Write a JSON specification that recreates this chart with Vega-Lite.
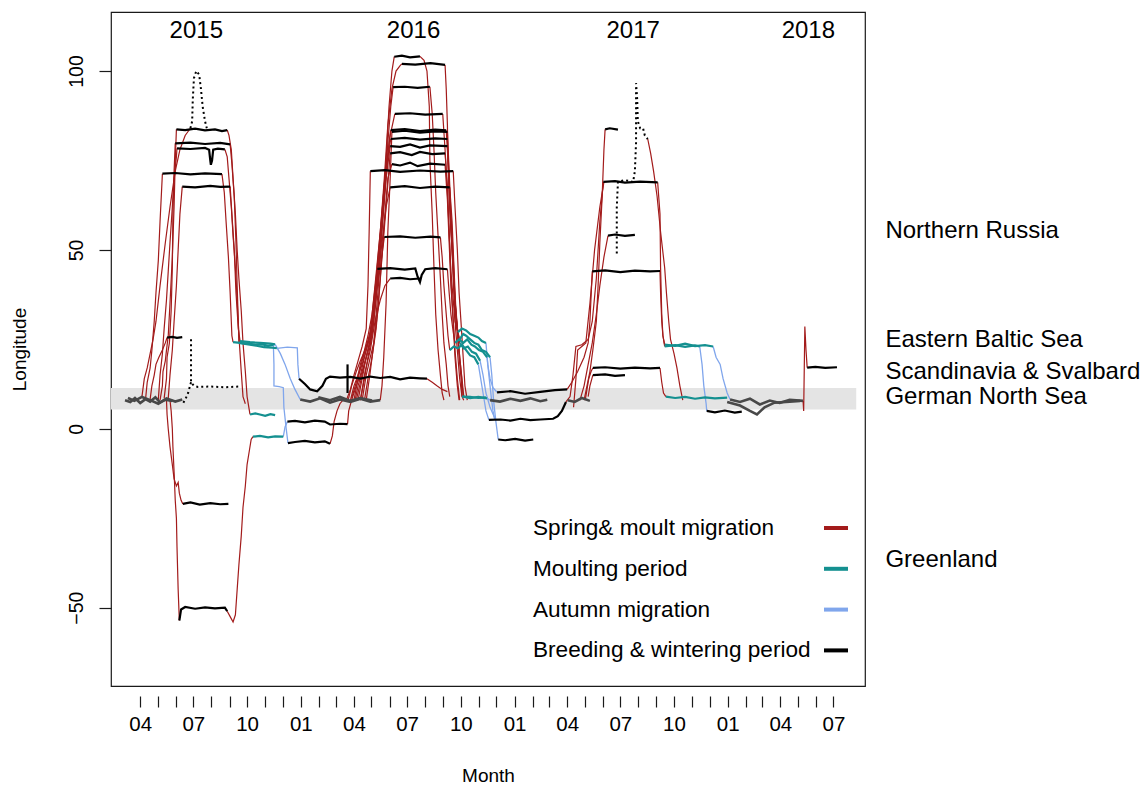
{
"$schema": "https://vega.github.io/schema/vega-lite/v6.json",
"width": 754, "height": 674,
"autosize": {"type": "none"},
"padding": {"left": 111, "top": 12, "right": 281, "bottom": 103},
"background": "white",
"config": {
 "font": "Liberation Sans",
 "view": {"stroke": "#1a1a1a", "strokeWidth": 1.2},
 "axis": {"grid": false, "domain": false, "tickColor": "#1a1a1a", "tickWidth": 1.2, "labelColor": "black", "titleColor": "black", "labelFont": "Liberation Sans", "titleFont": "Liberation Sans", "titleFontWeight": "normal"}
},
"datasets": {"tracks": [
{"s":"w1a","p":"W","d":"2015-03-06","v":8.0},{"s":"w1a","p":"W","d":"2015-03-15","v":7.5},{"s":"w1a","p":"W","d":"2015-03-23","v":8.6},{"s":"w1a","p":"W","d":"2015-04-01","v":7.2},{"s":"w1a","p":"W","d":"2015-04-10","v":8.3},{"s":"w1a","p":"W","d":"2015-04-18","v":7.6},{"s":"w1a","p":"W","d":"2015-04-27","v":8.8},{"s":"w1a","p":"W","d":"2015-05-05","v":7.4},{"s":"w1a","p":"W","d":"2015-05-14","v":8.1},{"s":"w1a","p":"W","d":"2015-05-26","v":7.8},
{"s":"w1b","p":"W","d":"2015-03-11","v":8.6},{"s":"w1b","p":"W","d":"2015-03-22","v":7.8},{"s":"w1b","p":"W","d":"2015-04-04","v":8.9},{"s":"w1b","p":"W","d":"2015-04-18","v":8.0},{"s":"w1b","p":"W","d":"2015-05-02","v":7.0},{"s":"w1b","p":"W","d":"2015-05-16","v":8.5},{"s":"w1b","p":"W","d":"2015-05-31","v":7.6},{"s":"w1b","p":"W","d":"2015-06-12","v":8.2},
{"s":"b1-1","p":"R","d":"2015-05-05","v":8},{"s":"b1-1","p":"R","d":"2015-05-09","v":12},{"s":"b1-1","p":"R","d":"2015-05-10","v":16},{"s":"b1-1","p":"R","d":"2015-05-14","v":19},{"s":"b1-1","p":"R","d":"2015-05-16","v":22},{"s":"b1-1","p":"R","d":"2015-05-19","v":26},{"s":"b1-1","p":"R","d":"2015-05-22","v":35},{"s":"b1-1","p":"R","d":"2015-05-26","v":48},{"s":"b1-1","p":"R","d":"2015-05-29","v":62},{"s":"b1-1","p":"R","d":"2015-05-31","v":75},{"s":"b1-1","p":"R","d":"2015-06-02","v":83.7},
{"s":"b1-2","p":"K","d":"2015-06-02","v":83.7},{"s":"b1-2","p":"K","d":"2015-06-17","v":83.5},{"s":"b1-2","p":"K","d":"2015-07-04","v":83.9},{"s":"b1-2","p":"K","d":"2015-07-21","v":83.4},{"s":"b1-2","p":"K","d":"2015-08-07","v":83.7},{"s":"b1-2","p":"K","d":"2015-08-19","v":83.2},{"s":"b1-2","p":"K","d":"2015-08-28","v":83.5},
{"s":"b1-3","p":"R","d":"2015-08-28","v":83.5},{"s":"b1-3","p":"R","d":"2015-08-31","v":82},{"s":"b1-3","p":"R","d":"2015-09-04","v":78},{"s":"b1-3","p":"R","d":"2015-09-07","v":70},{"s":"b1-3","p":"R","d":"2015-09-11","v":60},{"s":"b1-3","p":"R","d":"2015-09-14","v":50},{"s":"b1-3","p":"R","d":"2015-09-17","v":42},{"s":"b1-3","p":"R","d":"2015-09-21","v":33},{"s":"b1-3","p":"R","d":"2015-09-24","v":24},{"s":"b1-3","p":"R","d":"2015-09-28","v":16},{"s":"b1-3","p":"R","d":"2015-10-01","v":9},{"s":"b1-3","p":"R","d":"2015-10-05","v":5},{"s":"b1-3","p":"R","d":"2015-10-06","v":4},
{"s":"b1-4","p":"T","d":"2015-10-06","v":4},{"s":"b1-4","p":"T","d":"2015-10-15","v":4.3},{"s":"b1-4","p":"T","d":"2015-10-23","v":4.0},{"s":"b1-4","p":"T","d":"2015-11-01","v":3.6},{"s":"b1-4","p":"T","d":"2015-11-10","v":4.1},{"s":"b1-4","p":"T","d":"2015-11-18","v":3.8},
{"s":"b2-1","p":"R","d":"2015-05-12","v":8.5},{"s":"b2-1","p":"R","d":"2015-05-16","v":14},{"s":"b2-1","p":"R","d":"2015-05-17","v":20},{"s":"b2-1","p":"R","d":"2015-05-21","v":24},{"s":"b2-1","p":"R","d":"2015-05-24","v":33},{"s":"b2-1","p":"R","d":"2015-05-26","v":45},{"s":"b2-1","p":"R","d":"2015-05-27","v":60},{"s":"b2-1","p":"R","d":"2015-05-29","v":72},{"s":"b2-1","p":"R","d":"2015-05-31","v":79.8},
{"s":"b2-2","p":"K","d":"2015-05-31","v":79.8},{"s":"b2-2","p":"K","d":"2015-06-26","v":80},{"s":"b2-2","p":"K","d":"2015-07-21","v":79.6},{"s":"b2-2","p":"K","d":"2015-08-16","v":79.9},{"s":"b2-2","p":"K","d":"2015-09-02","v":79.5},
{"s":"b2-3","p":"R","d":"2015-09-02","v":79.5},{"s":"b2-3","p":"R","d":"2015-09-05","v":74},{"s":"b2-3","p":"R","d":"2015-09-09","v":65},{"s":"b2-3","p":"R","d":"2015-09-12","v":52},{"s":"b2-3","p":"R","d":"2015-09-14","v":40},{"s":"b2-3","p":"R","d":"2015-09-16","v":30},{"s":"b2-3","p":"R","d":"2015-09-17","v":24},
{"s":"b2-4","p":"T","d":"2015-09-17","v":24},{"s":"b2-4","p":"T","d":"2015-10-03","v":23.6},{"s":"b2-4","p":"T","d":"2015-10-17","v":23.2},{"s":"b2-4","p":"T","d":"2015-10-30","v":22.8},{"s":"b2-4","p":"T","d":"2015-11-13","v":22.7},{"s":"b2-4","p":"T","d":"2015-11-21","v":22.5},
{"s":"b2-5","p":"A","d":"2015-11-21","v":22.5},{"s":"b2-5","p":"A","d":"2015-12-09","v":22.8},{"s":"b2-5","p":"A","d":"2015-12-26","v":22.6},{"s":"b2-5","p":"A","d":"2015-12-27","v":18},{"s":"b2-5","p":"A","d":"2015-12-29","v":14},
{"s":"b2-6","p":"K","d":"2015-12-29","v":14},{"s":"b2-6","p":"K","d":"2016-01-08","v":12.5},{"s":"b2-6","p":"K","d":"2016-01-17","v":11},{"s":"b2-6","p":"K","d":"2016-01-29","v":10.5},{"s":"b2-6","p":"K","d":"2016-02-07","v":12},{"s":"b2-6","p":"K","d":"2016-02-13","v":14},{"s":"b2-6","p":"K","d":"2016-02-20","v":14.6},{"s":"b2-6","p":"K","d":"2016-03-08","v":14.3},{"s":"b2-6","p":"K","d":"2016-03-26","v":14.5},{"s":"b2-6","p":"K","d":"2016-04-12","v":14.0},{"s":"b2-6","p":"K","d":"2016-04-29","v":14.6},{"s":"b2-6","p":"K","d":"2016-05-16","v":14.2},{"s":"b2-6","p":"K","d":"2016-06-02","v":14.5},{"s":"b2-6","p":"K","d":"2016-06-19","v":13.8},{"s":"b2-6","p":"K","d":"2016-07-06","v":14.3},{"s":"b2-6","p":"K","d":"2016-07-23","v":14.1},{"s":"b2-6","p":"K","d":"2016-08-04","v":14},
{"s":"b2-7","p":"R","d":"2016-08-04","v":14},{"s":"b2-7","p":"R","d":"2016-08-13","v":13},{"s":"b2-7","p":"R","d":"2016-08-21","v":12},{"s":"b2-7","p":"R","d":"2016-08-30","v":11},{"s":"b2-7","p":"R","d":"2016-09-08","v":10.4},
{"s":"b2-8","p":"K","d":"2016-03-21","v":10},{"s":"b2-8","p":"K","d":"2016-03-21","v":18},
{"s":"b3-1","p":"R","d":"2015-05-02","v":8},{"s":"b3-1","p":"R","d":"2015-05-05","v":15},{"s":"b3-1","p":"R","d":"2015-05-09","v":21},{"s":"b3-1","p":"R","d":"2015-05-12","v":28},{"s":"b3-1","p":"R","d":"2015-05-16","v":36},{"s":"b3-1","p":"R","d":"2015-05-19","v":44},{"s":"b3-1","p":"R","d":"2015-05-22","v":52},{"s":"b3-1","p":"R","d":"2015-05-26","v":62},{"s":"b3-1","p":"R","d":"2015-05-29","v":70},{"s":"b3-1","p":"R","d":"2015-06-02","v":76},{"s":"b3-1","p":"R","d":"2015-06-03","v":78.4},
{"s":"b3-2","p":"K","d":"2015-06-03","v":78.4},{"s":"b3-2","p":"K","d":"2015-06-26","v":78.2},{"s":"b3-2","p":"K","d":"2015-07-21","v":78.5},{"s":"b3-2","p":"K","d":"2015-07-28","v":78},{"s":"b3-2","p":"K","d":"2015-07-30","v":75},{"s":"b3-2","p":"K","d":"2015-07-31","v":73.8},{"s":"b3-2","p":"K","d":"2015-08-02","v":75},{"s":"b3-2","p":"K","d":"2015-08-04","v":78},{"s":"b3-2","p":"K","d":"2015-08-12","v":78.3},{"s":"b3-2","p":"K","d":"2015-08-24","v":78.1},
{"s":"b3-3","p":"R","d":"2015-08-24","v":78.1},{"s":"b3-3","p":"R","d":"2015-08-28","v":76},{"s":"b3-3","p":"R","d":"2015-08-31","v":70},{"s":"b3-3","p":"R","d":"2015-09-04","v":62},{"s":"b3-3","p":"R","d":"2015-09-07","v":54},{"s":"b3-3","p":"R","d":"2015-09-11","v":45},{"s":"b3-3","p":"R","d":"2015-09-14","v":36},{"s":"b3-3","p":"R","d":"2015-09-17","v":26},{"s":"b3-3","p":"R","d":"2015-09-21","v":16},{"s":"b3-3","p":"R","d":"2015-09-24","v":9},{"s":"b3-3","p":"R","d":"2015-09-28","v":7},
{"s":"b4-1","p":"R","d":"2015-04-10","v":8},{"s":"b4-1","p":"R","d":"2015-04-13","v":13},{"s":"b4-1","p":"R","d":"2015-04-18","v":17},{"s":"b4-1","p":"R","d":"2015-04-21","v":22},{"s":"b4-1","p":"R","d":"2015-04-25","v":30},{"s":"b4-1","p":"R","d":"2015-04-28","v":38},{"s":"b4-1","p":"R","d":"2015-05-02","v":47},{"s":"b4-1","p":"R","d":"2015-05-05","v":58},{"s":"b4-1","p":"R","d":"2015-05-09","v":71.3},
{"s":"b4-2","p":"K","d":"2015-05-09","v":71.3},{"s":"b4-2","p":"K","d":"2015-05-31","v":71.5},{"s":"b4-2","p":"K","d":"2015-06-26","v":71.1},{"s":"b4-2","p":"K","d":"2015-07-21","v":71.4},{"s":"b4-2","p":"K","d":"2015-08-19","v":71.2},
{"s":"b4-3","p":"R","d":"2015-08-19","v":71.2},{"s":"b4-3","p":"R","d":"2015-08-23","v":66},{"s":"b4-3","p":"R","d":"2015-08-26","v":58},{"s":"b4-3","p":"R","d":"2015-08-30","v":48},{"s":"b4-3","p":"R","d":"2015-09-02","v":38},{"s":"b4-3","p":"R","d":"2015-09-04","v":30},{"s":"b4-3","p":"R","d":"2015-09-05","v":26},{"s":"b4-3","p":"R","d":"2015-09-07","v":24.2},
{"s":"b4-4","p":"T","d":"2015-09-07","v":24.2},{"s":"b4-4","p":"T","d":"2015-09-19","v":24.0},{"s":"b4-4","p":"T","d":"2015-10-03","v":23.8},{"s":"b4-4","p":"T","d":"2015-10-15","v":23.5},{"s":"b4-4","p":"T","d":"2015-10-27","v":23.6},{"s":"b4-4","p":"T","d":"2015-11-06","v":23.2},{"s":"b4-4","p":"T","d":"2015-11-15","v":23.5},
{"s":"b4-5","p":"A","d":"2015-11-15","v":23.5},{"s":"b4-5","p":"A","d":"2015-11-16","v":18},{"s":"b4-5","p":"A","d":"2015-11-16","v":12},{"s":"b4-5","p":"A","d":"2015-11-25","v":11.8},{"s":"b4-5","p":"A","d":"2015-12-02","v":11.5},{"s":"b4-5","p":"A","d":"2015-12-03","v":6},{"s":"b4-5","p":"A","d":"2015-12-07","v":0},{"s":"b4-5","p":"A","d":"2015-12-10","v":-4},
{"s":"b4-6","p":"K","d":"2015-12-10","v":-4},{"s":"b4-6","p":"K","d":"2015-12-22","v":-3.7},{"s":"b4-6","p":"K","d":"2016-01-08","v":-3.4},{"s":"b4-6","p":"K","d":"2016-01-25","v":-3.8},{"s":"b4-6","p":"K","d":"2016-02-11","v":-3.5},{"s":"b4-6","p":"K","d":"2016-02-20","v":-4.2},
{"s":"b4-7","p":"R","d":"2016-02-20","v":-4.2},{"s":"b4-7","p":"R","d":"2016-02-24","v":-2},{"s":"b4-7","p":"R","d":"2016-02-27","v":2},{"s":"b4-7","p":"R","d":"2016-03-03","v":5},{"s":"b4-7","p":"R","d":"2016-03-08","v":7},{"s":"b4-7","p":"R","d":"2016-03-13","v":8},
{"s":"b5-1","p":"R","d":"2015-05-19","v":8.5},{"s":"b5-1","p":"R","d":"2015-05-22","v":15},{"s":"b5-1","p":"R","d":"2015-05-26","v":22},{"s":"b5-1","p":"R","d":"2015-05-29","v":30},{"s":"b5-1","p":"R","d":"2015-06-02","v":40},{"s":"b5-1","p":"R","d":"2015-06-05","v":50},{"s":"b5-1","p":"R","d":"2015-06-08","v":60},{"s":"b5-1","p":"R","d":"2015-06-12","v":67.7},
{"s":"b5-2","p":"K","d":"2015-06-12","v":67.7},{"s":"b5-2","p":"K","d":"2015-07-04","v":67.5},{"s":"b5-2","p":"K","d":"2015-07-30","v":67.9},{"s":"b5-2","p":"K","d":"2015-08-16","v":67.6},{"s":"b5-2","p":"K","d":"2015-09-02","v":67.7},
{"s":"b5-3","p":"R","d":"2015-09-02","v":67.7},{"s":"b5-3","p":"R","d":"2015-09-05","v":60},{"s":"b5-3","p":"R","d":"2015-09-09","v":50},{"s":"b5-3","p":"R","d":"2015-09-12","v":38},{"s":"b5-3","p":"R","d":"2015-09-16","v":28},{"s":"b5-3","p":"R","d":"2015-09-19","v":24.5},
{"s":"b5-4","p":"T","d":"2015-09-19","v":24.5},{"s":"b5-4","p":"T","d":"2015-10-06","v":24.2},{"s":"b5-4","p":"T","d":"2015-10-23","v":24},{"s":"b5-4","p":"T","d":"2015-11-10","v":23.8},{"s":"b5-4","p":"T","d":"2015-11-18","v":23.6},
{"s":"b5-5","p":"A","d":"2015-11-18","v":23.6},{"s":"b5-5","p":"A","d":"2015-11-27","v":21},{"s":"b5-5","p":"A","d":"2015-12-05","v":18},{"s":"b5-5","p":"A","d":"2015-12-14","v":14},{"s":"b5-5","p":"A","d":"2015-12-22","v":11},{"s":"b5-5","p":"A","d":"2015-12-31","v":8.2},
{"s":"b5-6","p":"W","d":"2015-12-31","v":8.2},{"s":"b5-6","p":"W","d":"2016-01-17","v":7.6},{"s":"b5-6","p":"W","d":"2016-02-03","v":8.5},{"s":"b5-6","p":"W","d":"2016-02-20","v":7.3},{"s":"b5-6","p":"W","d":"2016-03-08","v":8.2},{"s":"b5-6","p":"W","d":"2016-03-26","v":7.5},{"s":"b5-6","p":"W","d":"2016-04-12","v":8.4},{"s":"b5-6","p":"W","d":"2016-04-29","v":7.6},{"s":"b5-6","p":"W","d":"2016-05-16","v":8},
{"s":"b5-7","p":"R","d":"2016-05-16","v":8},{"s":"b5-7","p":"R","d":"2016-05-19","v":12},{"s":"b5-7","p":"R","d":"2016-05-22","v":20},{"s":"b5-7","p":"R","d":"2016-05-26","v":35},{"s":"b5-7","p":"R","d":"2016-05-29","v":55},{"s":"b5-7","p":"R","d":"2016-06-02","v":70},{"s":"b5-7","p":"R","d":"2016-06-05","v":83},
{"s":"b5-8","p":"K","d":"2016-06-05","v":83},{"s":"b5-8","p":"K","d":"2016-06-27","v":83.3},{"s":"b5-8","p":"K","d":"2016-07-23","v":82.8},{"s":"b5-8","p":"K","d":"2016-08-18","v":83.1},{"s":"b5-8","p":"K","d":"2016-09-08","v":83},
{"s":"b5-9","p":"R","d":"2016-09-08","v":83},{"s":"b5-9","p":"R","d":"2016-09-11","v":72},{"s":"b5-9","p":"R","d":"2016-09-14","v":60},{"s":"b5-9","p":"R","d":"2016-09-18","v":48},{"s":"b5-9","p":"R","d":"2016-09-21","v":36},{"s":"b5-9","p":"R","d":"2016-09-25","v":27},{"s":"b5-9","p":"R","d":"2016-09-28","v":22},{"s":"b5-9","p":"R","d":"2016-10-02","v":15},{"s":"b5-9","p":"R","d":"2016-10-05","v":9},
{"s":"b5-10","p":"T","d":"2016-10-05","v":9},{"s":"b5-10","p":"T","d":"2016-10-17","v":8.6},{"s":"b5-10","p":"T","d":"2016-10-31","v":8.9},{"s":"b5-10","p":"T","d":"2016-11-15","v":8.5},
{"s":"b5-11","p":"A","d":"2016-11-15","v":8.5},{"s":"b5-11","p":"A","d":"2016-11-20","v":8},
{"s":"b5-12","p":"W","d":"2016-11-20","v":8},{"s":"b5-12","p":"W","d":"2016-12-07","v":7.6},{"s":"b5-12","p":"W","d":"2016-12-25","v":8.4},{"s":"b5-12","p":"W","d":"2017-01-11","v":7.8},{"s":"b5-12","p":"W","d":"2017-01-28","v":8.5},{"s":"b5-12","p":"W","d":"2017-02-14","v":7.7},{"s":"b5-12","p":"W","d":"2017-02-26","v":8.1},
{"s":"b6-1","p":"R","d":"2015-04-18","v":8.2},{"s":"b6-1","p":"R","d":"2015-04-21","v":12},{"s":"b6-1","p":"R","d":"2015-04-25","v":15},{"s":"b6-1","p":"R","d":"2015-04-28","v":18},{"s":"b6-1","p":"R","d":"2015-05-03","v":20},{"s":"b6-1","p":"R","d":"2015-05-09","v":22},{"s":"b6-1","p":"R","d":"2015-05-14","v":24},{"s":"b6-1","p":"R","d":"2015-05-17","v":25.5},
{"s":"b6-2","p":"K","d":"2015-05-17","v":25.5},{"s":"b6-2","p":"K","d":"2015-05-26","v":25.7},{"s":"b6-2","p":"K","d":"2015-06-03","v":25.4},{"s":"b6-2","p":"K","d":"2015-06-12","v":25.6},
{"s":"d1-1","p":"D","d":"2015-06-27","v":25},{"s":"d1-1","p":"D","d":"2015-06-27","v":13},{"s":"d1-1","p":"D","d":"2015-07-02","v":12},{"s":"d1-1","p":"D","d":"2015-07-09","v":11.7},{"s":"d1-1","p":"D","d":"2015-07-30","v":11.8},{"s":"d1-1","p":"D","d":"2015-08-24","v":11.6},{"s":"d1-1","p":"D","d":"2015-09-16","v":11.8},
{"s":"d1-2","p":"D","d":"2015-06-27","v":13},{"s":"d1-2","p":"D","d":"2015-06-22","v":10},{"s":"d1-2","p":"D","d":"2015-06-18","v":8.5},{"s":"d1-2","p":"D","d":"2015-06-13","v":7},
{"s":"b7-1","p":"R","d":"2015-04-04","v":9},{"s":"b7-1","p":"R","d":"2015-04-08","v":14},{"s":"b7-1","p":"R","d":"2015-04-13","v":17},{"s":"b7-1","p":"R","d":"2015-04-18","v":21},{"s":"b7-1","p":"R","d":"2015-04-23","v":25},{"s":"b7-1","p":"R","d":"2015-04-28","v":30},{"s":"b7-1","p":"R","d":"2015-05-05","v":40},{"s":"b7-1","p":"R","d":"2015-05-14","v":52},{"s":"b7-1","p":"R","d":"2015-05-22","v":62},{"s":"b7-1","p":"R","d":"2015-05-31","v":72},{"s":"b7-1","p":"R","d":"2015-06-08","v":78},{"s":"b7-1","p":"R","d":"2015-06-17","v":82},{"s":"b7-1","p":"R","d":"2015-06-26","v":84},
{"s":"d2-1","p":"D","d":"2015-06-26","v":84},{"s":"d2-1","p":"D","d":"2015-06-29","v":86},{"s":"d2-1","p":"D","d":"2015-06-30","v":92},{"s":"d2-1","p":"D","d":"2015-07-02","v":98},{"s":"d2-1","p":"D","d":"2015-07-06","v":100},{"s":"d2-1","p":"D","d":"2015-07-11","v":99},{"s":"d2-1","p":"D","d":"2015-07-14","v":95},{"s":"d2-1","p":"D","d":"2015-07-17","v":90},{"s":"d2-1","p":"D","d":"2015-07-21","v":86},{"s":"d2-1","p":"D","d":"2015-07-24","v":84},
{"s":"g1-1","p":"R","d":"2015-05-22","v":8},{"s":"g1-1","p":"R","d":"2015-05-24","v":5},{"s":"g1-1","p":"R","d":"2015-05-26","v":0},{"s":"g1-1","p":"R","d":"2015-05-27","v":-5},{"s":"g1-1","p":"R","d":"2015-05-29","v":-12},{"s":"g1-1","p":"R","d":"2015-05-31","v":-20},{"s":"g1-1","p":"R","d":"2015-06-02","v":-25},{"s":"g1-1","p":"R","d":"2015-06-03","v":-33},{"s":"g1-1","p":"R","d":"2015-06-05","v":-45},{"s":"g1-1","p":"R","d":"2015-06-07","v":-53.6},
{"s":"g1-2","p":"K","d":"2015-06-07","v":-53.6},{"s":"g1-2","p":"K","d":"2015-06-10","v":-50.5},{"s":"g1-2","p":"K","d":"2015-06-17","v":-49.8},{"s":"g1-2","p":"K","d":"2015-07-04","v":-50.3},{"s":"g1-2","p":"K","d":"2015-07-21","v":-49.9},{"s":"g1-2","p":"K","d":"2015-08-07","v":-50.2},{"s":"g1-2","p":"K","d":"2015-08-24","v":-50},{"s":"g1-2","p":"K","d":"2015-08-28","v":-51},
{"s":"g1-3","p":"R","d":"2015-08-28","v":-51},{"s":"g1-3","p":"R","d":"2015-09-02","v":-52.5},{"s":"g1-3","p":"R","d":"2015-09-07","v":-54},{"s":"g1-3","p":"R","d":"2015-09-11","v":-52},{"s":"g1-3","p":"R","d":"2015-09-14","v":-45},{"s":"g1-3","p":"R","d":"2015-09-17","v":-38},{"s":"g1-3","p":"R","d":"2015-09-21","v":-30},{"s":"g1-3","p":"R","d":"2015-09-24","v":-22},{"s":"g1-3","p":"R","d":"2015-09-28","v":-16},{"s":"g1-3","p":"R","d":"2015-10-01","v":-10},{"s":"g1-3","p":"R","d":"2015-10-05","v":-6},{"s":"g1-3","p":"R","d":"2015-10-08","v":-3},{"s":"g1-3","p":"R","d":"2015-10-11","v":-2.2},
{"s":"g1-4","p":"T","d":"2015-10-11","v":-2.2},{"s":"g1-4","p":"T","d":"2015-10-23","v":-2.0},{"s":"g1-4","p":"T","d":"2015-11-06","v":-2.4},{"s":"g1-4","p":"T","d":"2015-11-18","v":-2.1},{"s":"g1-4","p":"T","d":"2015-12-02","v":-2.2},
{"s":"g1-5","p":"A","d":"2015-12-02","v":-2.2},{"s":"g1-5","p":"A","d":"2015-12-05","v":0.5},{"s":"g1-5","p":"A","d":"2015-12-09","v":2},
{"s":"g1-6","p":"K","d":"2015-12-09","v":2},{"s":"g1-6","p":"K","d":"2015-12-22","v":2.2},{"s":"g1-6","p":"K","d":"2016-01-08","v":1.8},{"s":"g1-6","p":"K","d":"2016-01-25","v":2.3},{"s":"g1-6","p":"K","d":"2016-02-11","v":2.0},{"s":"g1-6","p":"K","d":"2016-02-20","v":1.2},{"s":"g1-6","p":"K","d":"2016-03-08","v":1.4},{"s":"g1-6","p":"K","d":"2016-03-21","v":1.3},
{"s":"g1-7","p":"R","d":"2016-03-21","v":1.3},{"s":"g1-7","p":"R","d":"2016-03-23","v":5},{"s":"g1-7","p":"R","d":"2016-03-28","v":8},{"s":"g1-7","p":"R","d":"2016-04-05","v":12},{"s":"g1-7","p":"R","d":"2016-04-12","v":15},{"s":"g1-7","p":"R","d":"2016-04-19","v":20},{"s":"g1-7","p":"R","d":"2016-04-25","v":24},{"s":"g1-7","p":"R","d":"2016-05-02","v":30},{"s":"g1-7","p":"R","d":"2016-05-09","v":38},{"s":"g1-7","p":"R","d":"2016-05-16","v":45},{"s":"g1-7","p":"R","d":"2016-05-23","v":53.6},
{"s":"g1-8","p":"K","d":"2016-05-23","v":53.6},{"s":"g1-8","p":"K","d":"2016-06-19","v":53.8},{"s":"g1-8","p":"K","d":"2016-07-15","v":53.4},{"s":"g1-8","p":"K","d":"2016-08-10","v":53.7},{"s":"g1-8","p":"K","d":"2016-08-27","v":53.5},
{"s":"g1-9","p":"R","d":"2016-08-27","v":53.5},{"s":"g1-9","p":"R","d":"2016-08-30","v":48},{"s":"g1-9","p":"R","d":"2016-09-02","v":40},{"s":"g1-9","p":"R","d":"2016-09-06","v":32},{"s":"g1-9","p":"R","d":"2016-09-09","v":26},{"s":"g1-9","p":"R","d":"2016-09-12","v":22},
{"s":"g1-10","p":"T","d":"2016-09-12","v":22},{"s":"g1-10","p":"T","d":"2016-09-19","v":23},{"s":"g1-10","p":"T","d":"2016-09-26","v":22.5},{"s":"g1-10","p":"T","d":"2016-10-03","v":23.5},{"s":"g1-10","p":"T","d":"2016-10-10","v":22},{"s":"g1-10","p":"T","d":"2016-10-17","v":20.5},{"s":"g1-10","p":"T","d":"2016-10-24","v":20},{"s":"g1-10","p":"T","d":"2016-10-31","v":18},
{"s":"g1-11","p":"A","d":"2016-10-31","v":18},{"s":"g1-11","p":"A","d":"2016-11-03","v":15},{"s":"g1-11","p":"A","d":"2016-11-08","v":10},{"s":"g1-11","p":"A","d":"2016-11-13","v":5},{"s":"g1-11","p":"A","d":"2016-11-18","v":2.5},
{"s":"g1-12","p":"K","d":"2016-11-18","v":2.5},{"s":"g1-12","p":"K","d":"2016-12-08","v":2.6},{"s":"g1-12","p":"K","d":"2016-12-25","v":2.3},{"s":"g1-12","p":"K","d":"2017-01-11","v":2.8},{"s":"g1-12","p":"K","d":"2017-01-28","v":2.4},{"s":"g1-12","p":"K","d":"2017-02-14","v":2.6},{"s":"g1-12","p":"K","d":"2017-03-08","v":2.8},{"s":"g1-12","p":"K","d":"2017-03-16","v":3.5},{"s":"g1-12","p":"K","d":"2017-03-23","v":5},{"s":"g1-12","p":"K","d":"2017-03-30","v":7.5},
{"s":"g1-13","p":"R","d":"2017-03-30","v":7.5},{"s":"g1-13","p":"R","d":"2017-04-06","v":9},{"s":"g1-13","p":"R","d":"2017-04-11","v":15},{"s":"g1-13","p":"R","d":"2017-04-16","v":23},{"s":"g1-13","p":"R","d":"2017-04-26","v":23.5},{"s":"g1-13","p":"R","d":"2017-05-07","v":25},{"s":"g1-13","p":"R","d":"2017-05-14","v":30},{"s":"g1-13","p":"R","d":"2017-05-21","v":42},{"s":"g1-13","p":"R","d":"2017-05-27","v":58},{"s":"g1-13","p":"R","d":"2017-06-02","v":69},
{"s":"g1-14","p":"K","d":"2017-06-02","v":69},{"s":"g1-14","p":"K","d":"2017-06-22","v":69.2},{"s":"g1-14","p":"K","d":"2017-07-09","v":68.8},{"s":"g1-14","p":"K","d":"2017-08-04","v":69.1},{"s":"g1-14","p":"K","d":"2017-09-03","v":68.9},
{"s":"g1-15","p":"R","d":"2017-09-03","v":68.9},{"s":"g1-15","p":"R","d":"2017-09-07","v":60},{"s":"g1-15","p":"R","d":"2017-09-08","v":45},{"s":"g1-15","p":"R","d":"2017-09-10","v":32},{"s":"g1-15","p":"R","d":"2017-09-12","v":26},{"s":"g1-15","p":"R","d":"2017-09-15","v":23.5},
{"s":"g1-16","p":"T","d":"2017-09-15","v":23.5},{"s":"g1-16","p":"T","d":"2017-10-03","v":23.2},{"s":"g1-16","p":"T","d":"2017-10-20","v":23.8},{"s":"g1-16","p":"T","d":"2017-11-06","v":23.1},{"s":"g1-16","p":"T","d":"2017-11-23","v":23.4},{"s":"g1-16","p":"T","d":"2017-12-07","v":23},
{"s":"g1-17","p":"A","d":"2017-12-07","v":23},{"s":"g1-17","p":"A","d":"2017-12-12","v":20},{"s":"g1-17","p":"A","d":"2017-12-19","v":18},{"s":"g1-17","p":"A","d":"2017-12-24","v":14},{"s":"g1-17","p":"A","d":"2017-12-31","v":10},{"s":"g1-17","p":"A","d":"2018-01-05","v":8.2},
{"s":"g1-18","p":"W","d":"2018-01-05","v":8.2},{"s":"g1-18","p":"W","d":"2018-01-22","v":7.5},{"s":"g1-18","p":"W","d":"2018-02-08","v":8.4},{"s":"g1-18","p":"W","d":"2018-02-25","v":6.8},{"s":"g1-18","p":"W","d":"2018-03-14","v":7.9},{"s":"g1-18","p":"W","d":"2018-03-31","v":7.2},{"s":"g1-18","p":"W","d":"2018-04-17","v":8.1},{"s":"g1-18","p":"W","d":"2018-05-10","v":7.8},
{"s":"g1-19","p":"R","d":"2018-05-10","v":7.8},{"s":"g1-19","p":"R","d":"2018-05-11","v":5},{"s":"g1-19","p":"R","d":"2018-05-13","v":28.6},{"s":"g1-19","p":"R","d":"2018-05-15","v":22},{"s":"g1-19","p":"R","d":"2018-05-17","v":17.1},
{"s":"g1-20","p":"K","d":"2018-05-17","v":17.1},{"s":"g1-20","p":"K","d":"2018-05-31","v":17.3},{"s":"g1-20","p":"K","d":"2018-06-17","v":17},{"s":"g1-20","p":"K","d":"2018-07-07","v":17.2},
{"s":"g2-1","p":"R","d":"2015-05-16","v":8},{"s":"g2-1","p":"R","d":"2015-05-17","v":4},{"s":"g2-1","p":"R","d":"2015-05-19","v":0},{"s":"g2-1","p":"R","d":"2015-05-22","v":-5},{"s":"g2-1","p":"R","d":"2015-05-26","v":-10},{"s":"g2-1","p":"R","d":"2015-05-29","v":-14},{"s":"g2-1","p":"R","d":"2015-06-02","v":-16},{"s":"g2-1","p":"R","d":"2015-06-05","v":-15},{"s":"g2-1","p":"R","d":"2015-06-07","v":-18},{"s":"g2-1","p":"R","d":"2015-06-10","v":-20},{"s":"g2-1","p":"R","d":"2015-06-13","v":-21},
{"s":"g2-2","p":"K","d":"2015-06-13","v":-21},{"s":"g2-2","p":"K","d":"2015-06-26","v":-20.6},{"s":"g2-2","p":"K","d":"2015-07-12","v":-21.2},{"s":"g2-2","p":"K","d":"2015-07-30","v":-20.8},{"s":"g2-2","p":"K","d":"2015-08-16","v":-21.1},{"s":"g2-2","p":"K","d":"2015-08-30","v":-21},
{"s":"w2-1","p":"W","d":"2016-01-31","v":8.8},{"s":"w2-1","p":"W","d":"2016-02-20","v":8.0},{"s":"w2-1","p":"W","d":"2016-03-08","v":8.9},{"s":"w2-1","p":"W","d":"2016-03-26","v":7.8},{"s":"w2-1","p":"W","d":"2016-04-12","v":8.6},{"s":"w2-1","p":"W","d":"2016-05-02","v":7.9},
{"s":"c1-1","p":"R","d":"2016-04-03","v":8},{"s":"c1-1","p":"R","d":"2016-04-08","v":12},{"s":"c1-1","p":"R","d":"2016-04-15","v":16},{"s":"c1-1","p":"R","d":"2016-04-22","v":20},{"s":"c1-1","p":"R","d":"2016-04-29","v":25},{"s":"c1-1","p":"R","d":"2016-05-05","v":33},{"s":"c1-1","p":"R","d":"2016-05-12","v":45},{"s":"c1-1","p":"R","d":"2016-05-19","v":60},{"s":"c1-1","p":"R","d":"2016-05-26","v":75},{"s":"c1-1","p":"R","d":"2016-05-31","v":90},{"s":"c1-1","p":"R","d":"2016-06-05","v":100},{"s":"c1-1","p":"R","d":"2016-06-09","v":104},
{"s":"c1-2","p":"K","d":"2016-06-09","v":104},{"s":"c1-2","p":"K","d":"2016-06-22","v":104.3},{"s":"c1-2","p":"K","d":"2016-07-06","v":103.8},{"s":"c1-2","p":"K","d":"2016-07-23","v":104.1},
{"s":"c1-3","p":"R","d":"2016-07-23","v":104.1},{"s":"c1-3","p":"R","d":"2016-07-30","v":103},{"s":"c1-3","p":"R","d":"2016-08-04","v":100},{"s":"c1-3","p":"R","d":"2016-08-08","v":90},{"s":"c1-3","p":"R","d":"2016-08-09","v":75},{"s":"c1-3","p":"R","d":"2016-08-13","v":60},{"s":"c1-3","p":"R","d":"2016-08-16","v":45},{"s":"c1-3","p":"R","d":"2016-08-19","v":32},{"s":"c1-3","p":"R","d":"2016-08-23","v":22},{"s":"c1-3","p":"R","d":"2016-08-27","v":15},{"s":"c1-3","p":"R","d":"2016-08-30","v":10},{"s":"c1-3","p":"R","d":"2016-09-02","v":8},
{"s":"c2-1","p":"R","d":"2016-03-28","v":8.5},{"s":"c2-1","p":"R","d":"2016-04-05","v":13},{"s":"c2-1","p":"R","d":"2016-04-12","v":18},{"s":"c2-1","p":"R","d":"2016-04-19","v":22},{"s":"c2-1","p":"R","d":"2016-04-25","v":26},{"s":"c2-1","p":"R","d":"2016-05-02","v":32},{"s":"c2-1","p":"R","d":"2016-05-09","v":42},{"s":"c2-1","p":"R","d":"2016-05-16","v":55},{"s":"c2-1","p":"R","d":"2016-05-23","v":70},{"s":"c2-1","p":"R","d":"2016-05-29","v":85},{"s":"c2-1","p":"R","d":"2016-06-05","v":95},{"s":"c2-1","p":"R","d":"2016-06-12","v":100},{"s":"c2-1","p":"R","d":"2016-06-19","v":101.5},{"s":"c2-1","p":"R","d":"2016-06-22","v":102},
{"s":"c2-2","p":"K","d":"2016-06-22","v":102},{"s":"c2-2","p":"K","d":"2016-07-15","v":101.8},{"s":"c2-2","p":"K","d":"2016-08-10","v":102.2},{"s":"c2-2","p":"K","d":"2016-09-04","v":101.7},
{"s":"c2-3","p":"R","d":"2016-09-04","v":101.7},{"s":"c2-3","p":"R","d":"2016-09-06","v":95},{"s":"c2-3","p":"R","d":"2016-09-08","v":85},{"s":"c2-3","p":"R","d":"2016-09-09","v":75},{"s":"c2-3","p":"R","d":"2016-09-12","v":62},{"s":"c2-3","p":"R","d":"2016-09-16","v":50},{"s":"c2-3","p":"R","d":"2016-09-19","v":40},{"s":"c2-3","p":"R","d":"2016-09-22","v":32},{"s":"c2-3","p":"R","d":"2016-09-26","v":27},{"s":"c2-3","p":"R","d":"2016-09-29","v":25},
{"s":"c2-4","p":"T","d":"2016-09-29","v":25},{"s":"c2-4","p":"T","d":"2016-10-05","v":26.5},{"s":"c2-4","p":"T","d":"2016-10-10","v":26},{"s":"c2-4","p":"T","d":"2016-10-17","v":25},{"s":"c2-4","p":"T","d":"2016-10-24","v":24},{"s":"c2-4","p":"T","d":"2016-10-31","v":23.5},{"s":"c2-4","p":"T","d":"2016-11-06","v":22},{"s":"c2-4","p":"T","d":"2016-11-13","v":21.5},{"s":"c2-4","p":"T","d":"2016-11-20","v":20},
{"s":"c2-5","p":"A","d":"2016-11-20","v":20},{"s":"c2-5","p":"A","d":"2016-11-23","v":15},{"s":"c2-5","p":"A","d":"2016-11-26","v":8},{"s":"c2-5","p":"A","d":"2016-11-30","v":2},{"s":"c2-5","p":"A","d":"2016-12-04","v":-3},
{"s":"c2-6","p":"K","d":"2016-12-04","v":-3},{"s":"c2-6","p":"K","d":"2016-12-16","v":-3.2},{"s":"c2-6","p":"K","d":"2017-01-02","v":-2.8},{"s":"c2-6","p":"K","d":"2017-01-19","v":-3.3},{"s":"c2-6","p":"K","d":"2017-02-02","v":-3},
{"s":"c3-1","p":"R","d":"2016-04-12","v":8},{"s":"c3-1","p":"R","d":"2016-04-19","v":14},{"s":"c3-1","p":"R","d":"2016-04-25","v":20},{"s":"c3-1","p":"R","d":"2016-05-02","v":26},{"s":"c3-1","p":"R","d":"2016-05-09","v":36},{"s":"c3-1","p":"R","d":"2016-05-16","v":50},{"s":"c3-1","p":"R","d":"2016-05-23","v":65},{"s":"c3-1","p":"R","d":"2016-05-29","v":80},{"s":"c3-1","p":"R","d":"2016-06-03","v":90},{"s":"c3-1","p":"R","d":"2016-06-07","v":95.5},
{"s":"c3-2","p":"K","d":"2016-06-07","v":95.5},{"s":"c3-2","p":"K","d":"2016-06-27","v":95.6},{"s":"c3-2","p":"K","d":"2016-07-19","v":95.3},{"s":"c3-2","p":"K","d":"2016-08-09","v":95.6},
{"s":"c3-3","p":"R","d":"2016-08-09","v":95.6},{"s":"c3-3","p":"R","d":"2016-08-13","v":88},{"s":"c3-3","p":"R","d":"2016-08-16","v":78},{"s":"c3-3","p":"R","d":"2016-08-19","v":66},{"s":"c3-3","p":"R","d":"2016-08-23","v":54},{"s":"c3-3","p":"R","d":"2016-08-27","v":42},{"s":"c3-3","p":"R","d":"2016-08-30","v":32},{"s":"c3-3","p":"R","d":"2016-09-02","v":24},{"s":"c3-3","p":"R","d":"2016-09-06","v":18},{"s":"c3-3","p":"R","d":"2016-09-09","v":12},{"s":"c3-3","p":"R","d":"2016-09-12","v":9},
{"s":"c4-1","p":"R","d":"2016-03-22","v":8},{"s":"c4-1","p":"R","d":"2016-03-28","v":12},{"s":"c4-1","p":"R","d":"2016-04-05","v":16},{"s":"c4-1","p":"R","d":"2016-04-12","v":19},{"s":"c4-1","p":"R","d":"2016-04-20","v":22},{"s":"c4-1","p":"R","d":"2016-04-29","v":27},{"s":"c4-1","p":"R","d":"2016-05-07","v":40},{"s":"c4-1","p":"R","d":"2016-05-16","v":55},{"s":"c4-1","p":"R","d":"2016-05-24","v":70},{"s":"c4-1","p":"R","d":"2016-06-02","v":82},{"s":"c4-1","p":"R","d":"2016-06-10","v":88},
{"s":"c4-2","p":"K","d":"2016-06-10","v":88},{"s":"c4-2","p":"K","d":"2016-07-06","v":88.2},{"s":"c4-2","p":"K","d":"2016-08-01","v":87.8},{"s":"c4-2","p":"K","d":"2016-08-31","v":88},
{"s":"c4-3","p":"R","d":"2016-08-31","v":88},{"s":"c4-3","p":"R","d":"2016-09-04","v":78},{"s":"c4-3","p":"R","d":"2016-09-08","v":66},{"s":"c4-3","p":"R","d":"2016-09-11","v":55},{"s":"c4-3","p":"R","d":"2016-09-14","v":44},{"s":"c4-3","p":"R","d":"2016-09-18","v":36},{"s":"c4-3","p":"R","d":"2016-09-21","v":30},{"s":"c4-3","p":"R","d":"2016-09-26","v":27},
{"s":"c4-4","p":"T","d":"2016-09-26","v":27},{"s":"c4-4","p":"T","d":"2016-10-03","v":28},{"s":"c4-4","p":"T","d":"2016-10-10","v":27.5},{"s":"c4-4","p":"T","d":"2016-10-17","v":26.5},{"s":"c4-4","p":"T","d":"2016-10-24","v":26},{"s":"c4-4","p":"T","d":"2016-10-31","v":25.5},{"s":"c4-4","p":"T","d":"2016-11-06","v":24.5},{"s":"c4-4","p":"T","d":"2016-11-13","v":24},
{"s":"c4-5","p":"A","d":"2016-11-13","v":24},{"s":"c4-5","p":"A","d":"2016-11-16","v":18},{"s":"c4-5","p":"A","d":"2016-11-20","v":14},{"s":"c4-5","p":"A","d":"2016-11-25","v":11.5},{"s":"c4-5","p":"A","d":"2016-12-02","v":10.2},
{"s":"c4-6","p":"K","d":"2016-12-02","v":10.2},{"s":"c4-6","p":"K","d":"2016-12-25","v":10.5},{"s":"c4-6","p":"K","d":"2017-01-19","v":9.8},{"s":"c4-6","p":"K","d":"2017-02-14","v":10.3},{"s":"c4-6","p":"K","d":"2017-03-11","v":10.8},{"s":"c4-6","p":"K","d":"2017-04-01","v":11},
{"s":"c4-7","p":"R","d":"2017-04-01","v":11},{"s":"c4-7","p":"R","d":"2017-04-09","v":13},{"s":"c4-7","p":"R","d":"2017-04-19","v":16},{"s":"c4-7","p":"R","d":"2017-04-30","v":20},{"s":"c4-7","p":"R","d":"2017-05-07","v":24},{"s":"c4-7","p":"R","d":"2017-05-10","v":30},{"s":"c4-7","p":"R","d":"2017-05-14","v":44},
{"s":"c4-8","p":"K","d":"2017-05-14","v":44},{"s":"c4-8","p":"K","d":"2017-06-05","v":44.3},{"s":"c4-8","p":"K","d":"2017-07-01","v":43.8},{"s":"c4-8","p":"K","d":"2017-07-26","v":44.2},{"s":"c4-8","p":"K","d":"2017-08-21","v":44},{"s":"c4-8","p":"K","d":"2017-09-07","v":44.1},
{"s":"c4-9","p":"R","d":"2017-09-07","v":44.1},{"s":"c4-9","p":"R","d":"2017-09-08","v":38},{"s":"c4-9","p":"R","d":"2017-09-10","v":30},{"s":"c4-9","p":"R","d":"2017-09-12","v":26},{"s":"c4-9","p":"R","d":"2017-09-15","v":23},
{"s":"c4-10","p":"T","d":"2017-09-15","v":23},{"s":"c4-10","p":"T","d":"2017-10-03","v":23.4},{"s":"c4-10","p":"T","d":"2017-10-20","v":22.9},{"s":"c4-10","p":"T","d":"2017-11-06","v":23.3},{"s":"c4-10","p":"T","d":"2017-11-14","v":23},
{"s":"c4-11","p":"A","d":"2017-11-14","v":23},{"s":"c4-11","p":"A","d":"2017-11-18","v":18},{"s":"c4-11","p":"A","d":"2017-11-21","v":12},{"s":"c4-11","p":"A","d":"2017-11-25","v":7},{"s":"c4-11","p":"A","d":"2017-11-26","v":5},
{"s":"c4-12","p":"K","d":"2017-11-26","v":5},{"s":"c4-12","p":"K","d":"2017-12-10","v":4.6},{"s":"c4-12","p":"K","d":"2017-12-27","v":5.1},{"s":"c4-12","p":"K","d":"2018-01-13","v":4.5},{"s":"c4-12","p":"K","d":"2018-01-25","v":4.8},
{"s":"c5-1","p":"R","d":"2016-04-05","v":8},{"s":"c5-1","p":"R","d":"2016-04-12","v":13},{"s":"c5-1","p":"R","d":"2016-04-19","v":18},{"s":"c5-1","p":"R","d":"2016-04-25","v":22},{"s":"c5-1","p":"R","d":"2016-05-02","v":28},{"s":"c5-1","p":"R","d":"2016-05-09","v":40},{"s":"c5-1","p":"R","d":"2016-05-16","v":54},{"s":"c5-1","p":"R","d":"2016-05-23","v":66},{"s":"c5-1","p":"R","d":"2016-05-29","v":76},{"s":"c5-1","p":"R","d":"2016-06-03","v":81},
{"s":"c5-2","p":"K","d":"2016-06-03","v":81},{"s":"c5-2","p":"K","d":"2016-06-27","v":81.3},{"s":"c5-2","p":"K","d":"2016-07-23","v":80.8},{"s":"c5-2","p":"K","d":"2016-08-18","v":81.2},{"s":"c5-2","p":"K","d":"2016-09-08","v":81},
{"s":"c5-3","p":"R","d":"2016-09-08","v":81},{"s":"c5-3","p":"R","d":"2016-09-11","v":70},{"s":"c5-3","p":"R","d":"2016-09-14","v":58},{"s":"c5-3","p":"R","d":"2016-09-18","v":46},{"s":"c5-3","p":"R","d":"2016-09-21","v":36},{"s":"c5-3","p":"R","d":"2016-09-25","v":28},{"s":"c5-3","p":"R","d":"2016-09-28","v":20},{"s":"c5-3","p":"R","d":"2016-10-02","v":13},{"s":"c5-3","p":"R","d":"2016-10-03","v":9},
{"s":"c5-4","p":"T","d":"2016-10-03","v":9},{"s":"c5-4","p":"T","d":"2016-10-17","v":8.9},{"s":"c5-4","p":"T","d":"2016-10-31","v":8.6},{"s":"c5-4","p":"T","d":"2016-11-13","v":8.8},
{"s":"c6-1","p":"R","d":"2016-04-08","v":8},{"s":"c6-1","p":"R","d":"2016-04-15","v":14},{"s":"c6-1","p":"R","d":"2016-04-22","v":20},{"s":"c6-1","p":"R","d":"2016-04-29","v":24},{"s":"c6-1","p":"R","d":"2016-05-05","v":30},{"s":"c6-1","p":"R","d":"2016-05-12","v":44},{"s":"c6-1","p":"R","d":"2016-05-19","v":58},{"s":"c6-1","p":"R","d":"2016-05-26","v":70},{"s":"c6-1","p":"R","d":"2016-06-02","v":79},
{"s":"c6-2","p":"K","d":"2016-06-02","v":79},{"s":"c6-2","p":"K","d":"2016-06-19","v":78.8},{"s":"c6-2","p":"K","d":"2016-07-06","v":79.5},{"s":"c6-2","p":"K","d":"2016-07-23","v":78.6},{"s":"c6-2","p":"K","d":"2016-08-09","v":79.2},{"s":"c6-2","p":"K","d":"2016-09-08","v":79},
{"s":"c6-3","p":"R","d":"2016-09-08","v":79},{"s":"c6-3","p":"R","d":"2016-09-11","v":68},{"s":"c6-3","p":"R","d":"2016-09-14","v":56},{"s":"c6-3","p":"R","d":"2016-09-18","v":45},{"s":"c6-3","p":"R","d":"2016-09-21","v":35},{"s":"c6-3","p":"R","d":"2016-09-25","v":28},{"s":"c6-3","p":"R","d":"2016-09-29","v":24},
{"s":"c6-4","p":"T","d":"2016-09-29","v":24},{"s":"c6-4","p":"T","d":"2016-10-06","v":22.5},{"s":"c6-4","p":"T","d":"2016-10-13","v":23},{"s":"c6-4","p":"T","d":"2016-10-20","v":21.5},{"s":"c6-4","p":"T","d":"2016-10-27","v":21},{"s":"c6-4","p":"T","d":"2016-11-03","v":19},
{"s":"c6-5","p":"A","d":"2016-11-03","v":19},{"s":"c6-5","p":"A","d":"2016-11-08","v":15},{"s":"c6-5","p":"A","d":"2016-11-13","v":10},{"s":"c6-5","p":"A","d":"2016-11-20","v":6},{"s":"c6-5","p":"A","d":"2016-11-28","v":3},
{"s":"c7-1","p":"R","d":"2016-04-15","v":8},{"s":"c7-1","p":"R","d":"2016-04-22","v":15},{"s":"c7-1","p":"R","d":"2016-04-29","v":20},{"s":"c7-1","p":"R","d":"2016-05-05","v":24},{"s":"c7-1","p":"R","d":"2016-05-12","v":33},{"s":"c7-1","p":"R","d":"2016-05-19","v":48},{"s":"c7-1","p":"R","d":"2016-05-26","v":62},{"s":"c7-1","p":"R","d":"2016-06-02","v":77},
{"s":"c7-2","p":"K","d":"2016-06-02","v":77},{"s":"c7-2","p":"K","d":"2016-06-19","v":77.3},{"s":"c7-2","p":"K","d":"2016-07-09","v":76.5},{"s":"c7-2","p":"K","d":"2016-07-23","v":77.4},{"s":"c7-2","p":"K","d":"2016-08-13","v":76.8},{"s":"c7-2","p":"K","d":"2016-09-04","v":77},
{"s":"c7-3","p":"R","d":"2016-09-04","v":77},{"s":"c7-3","p":"R","d":"2016-09-08","v":68},{"s":"c7-3","p":"R","d":"2016-09-11","v":55},{"s":"c7-3","p":"R","d":"2016-09-14","v":42},{"s":"c7-3","p":"R","d":"2016-09-18","v":30},{"s":"c7-3","p":"R","d":"2016-09-21","v":20},{"s":"c7-3","p":"R","d":"2016-09-25","v":12},{"s":"c7-3","p":"R","d":"2016-09-28","v":8},
{"s":"c8-1","p":"R","d":"2016-04-19","v":8},{"s":"c8-1","p":"R","d":"2016-04-25","v":14},{"s":"c8-1","p":"R","d":"2016-05-02","v":20},{"s":"c8-1","p":"R","d":"2016-05-09","v":28},{"s":"c8-1","p":"R","d":"2016-05-16","v":42},{"s":"c8-1","p":"R","d":"2016-05-23","v":58},{"s":"c8-1","p":"R","d":"2016-05-29","v":70},{"s":"c8-1","p":"R","d":"2016-06-05","v":74},
{"s":"c8-2","p":"K","d":"2016-06-05","v":74},{"s":"c8-2","p":"K","d":"2016-06-19","v":73.6},{"s":"c8-2","p":"K","d":"2016-07-06","v":74.4},{"s":"c8-2","p":"K","d":"2016-07-19","v":73.4},{"s":"c8-2","p":"K","d":"2016-08-09","v":74.1},{"s":"c8-2","p":"K","d":"2016-09-04","v":73.8},
{"s":"c8-3","p":"R","d":"2016-09-04","v":73.8},{"s":"c8-3","p":"R","d":"2016-09-08","v":64},{"s":"c8-3","p":"R","d":"2016-09-11","v":52},{"s":"c8-3","p":"R","d":"2016-09-14","v":40},{"s":"c8-3","p":"R","d":"2016-09-18","v":30},{"s":"c8-3","p":"R","d":"2016-09-21","v":22},{"s":"c8-3","p":"R","d":"2016-09-25","v":14},{"s":"c8-3","p":"R","d":"2016-09-29","v":8},
{"s":"c9-1","p":"R","d":"2016-03-19","v":8},{"s":"c9-1","p":"R","d":"2016-03-26","v":11},{"s":"c9-1","p":"R","d":"2016-04-01","v":15},{"s":"c9-1","p":"R","d":"2016-04-08","v":19},{"s":"c9-1","p":"R","d":"2016-04-15","v":23},{"s":"c9-1","p":"R","d":"2016-04-22","v":28},{"s":"c9-1","p":"R","d":"2016-04-25","v":40},{"s":"c9-1","p":"R","d":"2016-04-27","v":55},{"s":"c9-1","p":"R","d":"2016-04-29","v":72},
{"s":"c9-2","p":"K","d":"2016-04-29","v":72},{"s":"c9-2","p":"K","d":"2016-05-24","v":72.3},{"s":"c9-2","p":"K","d":"2016-06-19","v":71.8},{"s":"c9-2","p":"K","d":"2016-07-23","v":72.2},{"s":"c9-2","p":"K","d":"2016-08-27","v":71.9},{"s":"c9-2","p":"K","d":"2016-09-18","v":72},
{"s":"c9-3","p":"R","d":"2016-09-18","v":72},{"s":"c9-3","p":"R","d":"2016-09-21","v":62},{"s":"c9-3","p":"R","d":"2016-09-25","v":50},{"s":"c9-3","p":"R","d":"2016-09-28","v":38},{"s":"c9-3","p":"R","d":"2016-10-02","v":28},{"s":"c9-3","p":"R","d":"2016-10-05","v":20},{"s":"c9-3","p":"R","d":"2016-10-08","v":12},{"s":"c9-3","p":"R","d":"2016-10-12","v":8},
{"s":"c10-1","p":"R","d":"2016-04-01","v":8},{"s":"c10-1","p":"R","d":"2016-04-08","v":14},{"s":"c10-1","p":"R","d":"2016-04-15","v":19},{"s":"c10-1","p":"R","d":"2016-04-22","v":23},{"s":"c10-1","p":"R","d":"2016-04-29","v":26},{"s":"c10-1","p":"R","d":"2016-05-05","v":32},{"s":"c10-1","p":"R","d":"2016-05-12","v":42},{"s":"c10-1","p":"R","d":"2016-05-19","v":52},{"s":"c10-1","p":"R","d":"2016-05-26","v":62},{"s":"c10-1","p":"R","d":"2016-06-02","v":67.5},
{"s":"c10-2","p":"K","d":"2016-06-02","v":67.5},{"s":"c10-2","p":"K","d":"2016-06-27","v":67.8},{"s":"c10-2","p":"K","d":"2016-07-23","v":67.3},{"s":"c10-2","p":"K","d":"2016-08-18","v":67.7},{"s":"c10-2","p":"K","d":"2016-09-12","v":67.5},
{"s":"c10-3","p":"R","d":"2016-09-12","v":67.5},{"s":"c10-3","p":"R","d":"2016-09-16","v":58},{"s":"c10-3","p":"R","d":"2016-09-19","v":46},{"s":"c10-3","p":"R","d":"2016-09-22","v":35},{"s":"c10-3","p":"R","d":"2016-09-26","v":26},{"s":"c10-3","p":"R","d":"2016-09-29","v":20},{"s":"c10-3","p":"R","d":"2016-10-03","v":14},{"s":"c10-3","p":"R","d":"2016-10-06","v":9},
{"s":"c11-1","p":"R","d":"2016-03-26","v":8},{"s":"c11-1","p":"R","d":"2016-04-01","v":12},{"s":"c11-1","p":"R","d":"2016-04-08","v":15},{"s":"c11-1","p":"R","d":"2016-04-15","v":18},{"s":"c11-1","p":"R","d":"2016-04-22","v":22},{"s":"c11-1","p":"R","d":"2016-04-29","v":26},{"s":"c11-1","p":"R","d":"2016-05-05","v":35},{"s":"c11-1","p":"R","d":"2016-05-11","v":44.7},
{"s":"c11-2","p":"K","d":"2016-05-11","v":44.7},{"s":"c11-2","p":"K","d":"2016-06-02","v":44.9},{"s":"c11-2","p":"K","d":"2016-06-27","v":44.5},{"s":"c11-2","p":"K","d":"2016-07-15","v":44.8},{"s":"c11-2","p":"K","d":"2016-07-19","v":42.5},{"s":"c11-2","p":"K","d":"2016-07-23","v":41},{"s":"c11-2","p":"K","d":"2016-07-26","v":43},{"s":"c11-2","p":"K","d":"2016-08-01","v":44.6},{"s":"c11-2","p":"K","d":"2016-08-18","v":44.9},{"s":"c11-2","p":"K","d":"2016-09-08","v":44.6},
{"s":"c11-3","p":"R","d":"2016-09-08","v":44.6},{"s":"c11-3","p":"R","d":"2016-09-11","v":38},{"s":"c11-3","p":"R","d":"2016-09-14","v":32},{"s":"c11-3","p":"R","d":"2016-09-18","v":27},{"s":"c11-3","p":"R","d":"2016-09-21","v":24},
{"s":"c11-4","p":"T","d":"2016-09-21","v":24},{"s":"c11-4","p":"T","d":"2016-09-28","v":25},{"s":"c11-4","p":"T","d":"2016-10-05","v":24},{"s":"c11-4","p":"T","d":"2016-10-12","v":25},{"s":"c11-4","p":"T","d":"2016-10-19","v":23.5},{"s":"c11-4","p":"T","d":"2016-10-25","v":23},{"s":"c11-4","p":"T","d":"2016-11-01","v":22},{"s":"c11-4","p":"T","d":"2016-11-08","v":21.5},{"s":"c11-4","p":"T","d":"2016-11-15","v":20},
{"s":"c11-5","p":"A","d":"2016-11-15","v":20},{"s":"c11-5","p":"A","d":"2016-11-18","v":15},{"s":"c11-5","p":"A","d":"2016-11-22","v":9},{"s":"c11-5","p":"A","d":"2016-11-25","v":5},{"s":"c11-5","p":"A","d":"2016-11-28","v":2.5},
{"s":"c12-1","p":"R","d":"2016-04-12","v":8},{"s":"c12-1","p":"R","d":"2016-04-20","v":16},{"s":"c12-1","p":"R","d":"2016-04-29","v":22},{"s":"c12-1","p":"R","d":"2016-05-07","v":30},{"s":"c12-1","p":"R","d":"2016-05-16","v":36},{"s":"c12-1","p":"R","d":"2016-05-24","v":40},{"s":"c12-1","p":"R","d":"2016-06-02","v":42},
{"s":"c12-2","p":"K","d":"2016-06-02","v":42},{"s":"c12-2","p":"K","d":"2016-06-19","v":42.2},{"s":"c12-2","p":"K","d":"2016-07-06","v":41.8},{"s":"c12-2","p":"K","d":"2016-07-23","v":42},
{"s":"c13-1","p":"R","d":"2016-04-22","v":8},{"s":"c13-1","p":"R","d":"2016-04-29","v":16},{"s":"c13-1","p":"R","d":"2016-05-05","v":24},{"s":"c13-1","p":"R","d":"2016-05-12","v":38},{"s":"c13-1","p":"R","d":"2016-05-19","v":55},{"s":"c13-1","p":"R","d":"2016-05-26","v":70},{"s":"c13-1","p":"R","d":"2016-05-31","v":80},{"s":"c13-1","p":"R","d":"2016-06-03","v":83.5},
{"s":"c13-2","p":"K","d":"2016-06-03","v":83.5},{"s":"c13-2","p":"K","d":"2016-06-27","v":83.8},{"s":"c13-2","p":"K","d":"2016-07-23","v":83.2},{"s":"c13-2","p":"K","d":"2016-08-18","v":83.6},{"s":"c13-2","p":"K","d":"2016-09-06","v":83.4},
{"s":"c13-3","p":"R","d":"2016-09-06","v":83.4},{"s":"c13-3","p":"R","d":"2016-09-09","v":75},{"s":"c13-3","p":"R","d":"2016-09-12","v":62},{"s":"c13-3","p":"R","d":"2016-09-16","v":50},{"s":"c13-3","p":"R","d":"2016-09-19","v":38},{"s":"c13-3","p":"R","d":"2016-09-22","v":28},{"s":"c13-3","p":"R","d":"2016-09-26","v":20},{"s":"c13-3","p":"R","d":"2016-09-29","v":14},{"s":"c13-3","p":"R","d":"2016-10-03","v":9},{"s":"c13-3","p":"R","d":"2016-10-06","v":8},
{"s":"w3-1","p":"W","d":"2017-04-02","v":8},{"s":"w3-1","p":"W","d":"2017-04-14","v":7.5},{"s":"w3-1","p":"W","d":"2017-04-26","v":8.6},{"s":"w3-1","p":"W","d":"2017-05-10","v":7.8},
{"s":"e1-1","p":"R","d":"2017-04-30","v":8},{"s":"e1-1","p":"R","d":"2017-05-05","v":12},{"s":"e1-1","p":"R","d":"2017-05-10","v":16},{"s":"e1-1","p":"R","d":"2017-05-15","v":22},{"s":"e1-1","p":"R","d":"2017-05-21","v":30},{"s":"e1-1","p":"R","d":"2017-05-24","v":40},{"s":"e1-1","p":"R","d":"2017-05-27","v":52},{"s":"e1-1","p":"R","d":"2017-05-31","v":65},{"s":"e1-1","p":"R","d":"2017-06-03","v":78},{"s":"e1-1","p":"R","d":"2017-06-05","v":83.7},
{"s":"e1-2","p":"K","d":"2017-06-05","v":83.7},{"s":"e1-2","p":"K","d":"2017-06-13","v":84},{"s":"e1-2","p":"K","d":"2017-06-27","v":83.6},
{"s":"e2-1","p":"R","d":"2017-04-23","v":8},{"s":"e2-1","p":"R","d":"2017-04-30","v":12},{"s":"e2-1","p":"R","d":"2017-05-07","v":18},{"s":"e2-1","p":"R","d":"2017-05-14","v":24},{"s":"e2-1","p":"R","d":"2017-05-21","v":32},{"s":"e2-1","p":"R","d":"2017-05-27","v":40},{"s":"e2-1","p":"R","d":"2017-06-03","v":48},{"s":"e2-1","p":"R","d":"2017-06-10","v":54},
{"s":"e2-2","p":"K","d":"2017-06-10","v":54},{"s":"e2-2","p":"K","d":"2017-06-22","v":54.3},{"s":"e2-2","p":"K","d":"2017-07-09","v":53.9},{"s":"e2-2","p":"K","d":"2017-07-26","v":54.2},
{"s":"d3-1","p":"D","d":"2017-06-25","v":49},{"s":"d3-1","p":"D","d":"2017-06-25","v":62},{"s":"d3-1","p":"D","d":"2017-06-27","v":69},{"s":"d3-1","p":"D","d":"2017-07-09","v":69.5},{"s":"d3-1","p":"D","d":"2017-07-23","v":69},{"s":"d3-1","p":"D","d":"2017-07-26","v":72},{"s":"d3-1","p":"D","d":"2017-07-28","v":80},{"s":"d3-1","p":"D","d":"2017-07-28","v":96.6},{"s":"d3-1","p":"D","d":"2017-07-30","v":92},{"s":"d3-1","p":"D","d":"2017-07-31","v":86},{"s":"d3-1","p":"D","d":"2017-08-04","v":84},{"s":"d3-1","p":"D","d":"2017-08-09","v":84},{"s":"d3-1","p":"D","d":"2017-08-12","v":82},{"s":"d3-1","p":"D","d":"2017-08-17","v":81},
{"s":"e2-3","p":"R","d":"2017-08-17","v":81},{"s":"e2-3","p":"R","d":"2017-08-22","v":77},{"s":"e2-3","p":"R","d":"2017-08-27","v":72},{"s":"e2-3","p":"R","d":"2017-09-02","v":65},{"s":"e2-3","p":"R","d":"2017-09-08","v":55},{"s":"e2-3","p":"R","d":"2017-09-15","v":45},{"s":"e2-3","p":"R","d":"2017-09-18","v":38},{"s":"e2-3","p":"R","d":"2017-09-22","v":30},{"s":"e2-3","p":"R","d":"2017-09-25","v":25},{"s":"e2-3","p":"R","d":"2017-10-01","v":21},{"s":"e2-3","p":"R","d":"2017-10-06","v":17},{"s":"e2-3","p":"R","d":"2017-10-11","v":12},{"s":"e2-3","p":"R","d":"2017-10-16","v":8},
{"s":"e3-1","p":"R","d":"2017-05-02","v":8},{"s":"e3-1","p":"R","d":"2017-05-05","v":11},{"s":"e3-1","p":"R","d":"2017-05-08","v":14},{"s":"e3-1","p":"R","d":"2017-05-12","v":16},{"s":"e3-1","p":"R","d":"2017-05-15","v":17},
{"s":"e3-2","p":"K","d":"2017-05-15","v":17},{"s":"e3-2","p":"K","d":"2017-06-05","v":17.2},{"s":"e3-2","p":"K","d":"2017-07-01","v":16.8},{"s":"e3-2","p":"K","d":"2017-07-26","v":17.1},{"s":"e3-2","p":"K","d":"2017-08-21","v":16.9},{"s":"e3-2","p":"K","d":"2017-09-07","v":17},
{"s":"e3-3","p":"R","d":"2017-09-07","v":17},{"s":"e3-3","p":"R","d":"2017-09-10","v":13},{"s":"e3-3","p":"R","d":"2017-09-13","v":10},{"s":"e3-3","p":"R","d":"2017-09-17","v":9},
{"s":"e3-4","p":"T","d":"2017-09-17","v":9},{"s":"e3-4","p":"T","d":"2017-10-03","v":8.6},{"s":"e3-4","p":"T","d":"2017-10-20","v":8.9},{"s":"e3-4","p":"T","d":"2017-11-06","v":8.4},{"s":"e3-4","p":"T","d":"2017-11-23","v":8.8},{"s":"e3-4","p":"T","d":"2017-12-10","v":8.5},{"s":"e3-4","p":"T","d":"2017-12-31","v":8.7},
{"s":"e4-1","p":"R","d":"2017-05-07","v":9},{"s":"e4-1","p":"R","d":"2017-05-10","v":12},{"s":"e4-1","p":"R","d":"2017-05-15","v":15},
{"s":"e4-2","p":"K","d":"2017-05-15","v":15},{"s":"e4-2","p":"K","d":"2017-06-05","v":15.2},{"s":"e4-2","p":"K","d":"2017-06-22","v":14.8},{"s":"e4-2","p":"K","d":"2017-07-09","v":15},
{"s":"e5-1","p":"R","d":"2017-04-12","v":6},{"s":"e5-1","p":"R","d":"2017-04-16","v":14},{"s":"e5-1","p":"R","d":"2017-04-19","v":22},{"s":"e5-1","p":"R","d":"2017-04-26","v":23},{"s":"e5-1","p":"R","d":"2017-05-03","v":24},{"s":"e5-1","p":"R","d":"2017-05-10","v":35},{"s":"e5-1","p":"R","d":"2017-05-18","v":50},{"s":"e5-1","p":"R","d":"2017-05-27","v":62},{"s":"e5-1","p":"R","d":"2017-06-03","v":69},
{"s":"w4-1","p":"W","d":"2017-12-31","v":7.5},{"s":"w4-1","p":"W","d":"2018-01-22","v":6.5},{"s":"w4-1","p":"W","d":"2018-02-08","v":5},{"s":"w4-1","p":"W","d":"2018-02-20","v":4},{"s":"w4-1","p":"W","d":"2018-03-05","v":6},{"s":"w4-1","p":"W","d":"2018-03-22","v":7.3},{"s":"w4-1","p":"W","d":"2018-04-17","v":7.6},{"s":"w4-1","p":"W","d":"2018-05-05","v":7.8}
]},
"encoding": {
 "x": {"field": "d", "type": "temporal",
   "scale": {"type": "utc", "domain": [{"year":2015,"month":2,"date":10,"utc":true},{"year":2018,"month":8,"date":24,"utc":true}]},
   "axis": {"title": "Month", "values": [
     {"year":2015,"month":4,"date":1,"utc":true},{"year":2015,"month":5,"date":1,"utc":true},{"year":2015,"month":6,"date":1,"utc":true},{"year":2015,"month":7,"date":1,"utc":true},{"year":2015,"month":8,"date":1,"utc":true},{"year":2015,"month":9,"date":1,"utc":true},{"year":2015,"month":10,"date":1,"utc":true},{"year":2015,"month":11,"date":1,"utc":true},{"year":2015,"month":12,"date":1,"utc":true},
     {"year":2016,"month":1,"date":1,"utc":true},{"year":2016,"month":2,"date":1,"utc":true},{"year":2016,"month":3,"date":1,"utc":true},{"year":2016,"month":4,"date":1,"utc":true},{"year":2016,"month":5,"date":1,"utc":true},{"year":2016,"month":6,"date":1,"utc":true},{"year":2016,"month":7,"date":1,"utc":true},{"year":2016,"month":8,"date":1,"utc":true},{"year":2016,"month":9,"date":1,"utc":true},{"year":2016,"month":10,"date":1,"utc":true},{"year":2016,"month":11,"date":1,"utc":true},{"year":2016,"month":12,"date":1,"utc":true},
     {"year":2017,"month":1,"date":1,"utc":true},{"year":2017,"month":2,"date":1,"utc":true},{"year":2017,"month":3,"date":1,"utc":true},{"year":2017,"month":4,"date":1,"utc":true},{"year":2017,"month":5,"date":1,"utc":true},{"year":2017,"month":6,"date":1,"utc":true},{"year":2017,"month":7,"date":1,"utc":true},{"year":2017,"month":8,"date":1,"utc":true},{"year":2017,"month":9,"date":1,"utc":true},{"year":2017,"month":10,"date":1,"utc":true},{"year":2017,"month":11,"date":1,"utc":true},{"year":2017,"month":12,"date":1,"utc":true},
     {"year":2018,"month":1,"date":1,"utc":true},{"year":2018,"month":2,"date":1,"utc":true},{"year":2018,"month":3,"date":1,"utc":true},{"year":2018,"month":4,"date":1,"utc":true},{"year":2018,"month":5,"date":1,"utc":true},{"year":2018,"month":6,"date":1,"utc":true},{"year":2018,"month":7,"date":1,"utc":true}],
     "labelExpr": "utcmonth(datum.value) % 3 == 0 ? utcFormat(datum.value, '%m') : ''",
     "tickSize": 11, "offset": 10, "labelPadding": 7, "labelFontSize": 20.5, "titleFontSize": 19, "titlePadding": 32,
     "labelOverlap": false, "labelFlush": false, "labelBound": false}},
 "y": {"field": "v", "type": "quantitative",
   "scale": {"domain": [-71.9, 116.5], "nice": false, "zero": false},
   "axis": {"title": "Longitude", "values": [-50, 0, 50, 100], "tickSize": 12, "labelAngle": -90, "labelAlign": "center", "labelBaseline": "alphabetic", "labelPadding": 17, "labelFontSize": 19.5, "titleFontSize": 19, "titlePadding": 37}}
},
"layer": [
 {"data": {"values": [{"d": "2015-02-10", "d2": "2018-08-09", "v": 5.4, "v2": 11.4}]},
  "mark": {"type": "rect", "color": "#e4e4e4"},
  "encoding": {"x2": {"field": "d2"}, "y2": {"field": "v2"}}},
 {"data": {"name": "tracks"},
  "encoding": {
    "color": {"field": "p", "type": "nominal",
      "scale": {"domain": ["R", "T", "A", "K", "W", "D"], "range": ["#a31b1b", "#149090", "#80a6ec", "#000000", "#484848", "#000000"]},
      "legend": {"orient": "none", "legendX": 711, "legendY": 502, "direction": "vertical", "title": null,
        "values": ["R", "T", "A", "K"],
        "labelExpr": "datum.value == 'R' ? 'Spring& moult migration' : datum.value == 'T' ? 'Moulting period' : datum.value == 'A' ? 'Autumn migration' : 'Breeding & wintering period'",
        "symbolType": "stroke", "symbolStrokeWidth": 4, "symbolSize": 576, "labelOffset": -317, "labelAlign": "left", "labelBaseline": "middle",
        "labelFontSize": 22.6, "labelFont": "Liberation Sans", "labelColor": "black", "labelLimit": 500, "rowPadding": 14.8, "padding": 0}},
    "detail": {"field": "s"},
    "order": {"value": null}},
  "layer": [
    {"transform": [{"filter": "datum.p == 'R'"}], "mark": {"type": "line", "strokeWidth": 1.2}},
    {"transform": [{"filter": "datum.p == 'A'"}], "mark": {"type": "line", "strokeWidth": 1.3}},
    {"transform": [{"filter": "datum.p == 'T'"}], "mark": {"type": "line", "strokeWidth": 2.2}},
    {"transform": [{"filter": "datum.p == 'W'"}], "mark": {"type": "line", "strokeWidth": 2.6}},
    {"transform": [{"filter": "datum.p == 'K'"}], "mark": {"type": "line", "strokeWidth": 2.2}},
    {"transform": [{"filter": "datum.p == 'D'"}], "mark": {"type": "line", "strokeWidth": 2, "strokeDash": [2, 3]}}
  ]},
 {"data": {"values": [{"t": "2015", "d": "2015-07-06", "v": 111.3}, {"t": "2016", "d": "2016-07-12", "v": 111.3}, {"t": "2017", "d": "2017-07-23", "v": 111.3}, {"t": "2018", "d": "2018-05-19", "v": 111.3}]},
  "mark": {"type": "text", "fontSize": 24, "align": "center", "baseline": "middle", "font": "Liberation Sans", "color": "black"},
  "encoding": {"text": {"field": "t"}}},
 {"data": {"values": [{"t": "Northern Russia", "d": "2018-09-28", "v": 55.4}, {"t": "Eastern Baltic Sea", "d": "2018-09-28", "v": 24.7}, {"t": "Scandinavia & Svalbard", "d": "2018-09-28", "v": 15.8}, {"t": "German North Sea", "d": "2018-09-28", "v": 8.8}, {"t": "Greenland", "d": "2018-09-28", "v": -36.7}]},
  "mark": {"type": "text", "fontSize": 24, "align": "left", "baseline": "middle", "font": "Liberation Sans", "color": "black"},
  "encoding": {"text": {"field": "t"}}}
]
}
